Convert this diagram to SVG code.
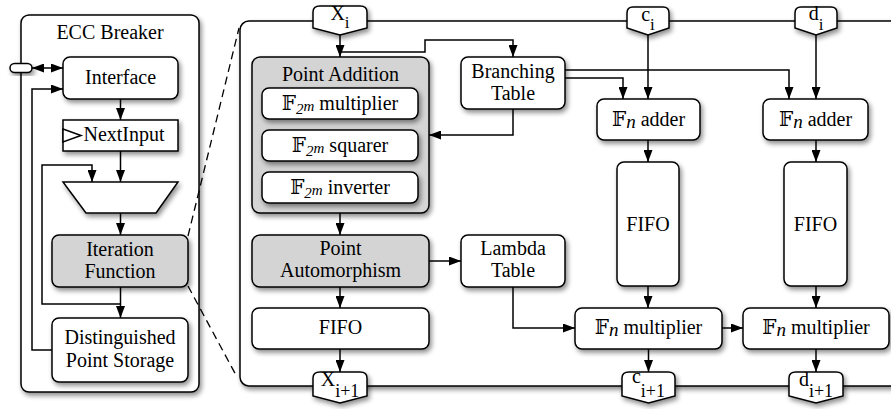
<svg xmlns="http://www.w3.org/2000/svg" width="891" height="409" viewBox="0 0 891 409" font-family="'Liberation Serif', 'Times New Roman', 'DejaVu Serif', serif">
<style>
  .box{fill:#fff;stroke:#000;stroke-width:1.5;filter:url(#sh)}
  .gray{fill:#d4d4d4}
  .t{font-size:20px;text-anchor:middle;fill:#000}
  .i{font-style:italic}
  .ln{fill:none;stroke:#000;stroke-width:1.5}
  .arr{marker-end:url(#ah)}
  .dash{fill:none;stroke:#000;stroke-width:1.3;stroke-dasharray:8,5}
</style>
<defs>
  <filter id="sh" x="-20%" y="-20%" width="150%" height="150%">
    <feGaussianBlur in="SourceAlpha" stdDeviation="2.5"/>
    <feOffset dx="2" dy="3"/>
    <feComponentTransfer><feFuncA type="linear" slope="0.45"/></feComponentTransfer>
    <feMerge><feMergeNode/><feMergeNode in="SourceGraphic"/></feMerge>
  </filter>
  <marker id="ah" viewBox="0 0 12 9" refX="12" refY="4.5" markerWidth="12" markerHeight="9" markerUnits="userSpaceOnUse" orient="auto-start-reverse">
    <path d="M0,0 L12,4.5 L0,9 z" fill="#000"/>
  </marker>
</defs>

<!-- Left panel -->
<g id="ecc-breaker">
  <rect class="box" x="21" y="15" width="178" height="377" rx="8"/>
  <text class="t" x="110" y="39">ECC Breaker</text>
</g>
<g id="io-port">
  <rect class="box" x="10" y="63.5" width="22" height="9" rx="4.5"/>
</g>
<g id="interface">
  <rect class="box" x="63" y="57" width="115" height="42" rx="7"/>
  <text class="t" x="120.5" y="84">Interface</text>
</g>
<g id="next-input">
  <rect class="box" x="63" y="120" width="115" height="31"/>
  <polygon points="63,129 81,135.5 63,142" fill="#fff" stroke="#000" stroke-width="1.5"/>
  <text class="t" x="124" y="141">NextInput</text>
</g>
<g id="mux">
  <polygon class="box" points="63,182 178,182 156,213 86,213"/>
</g>
<g id="iteration-function">
  <rect class="box gray" x="52" y="235" width="136" height="52" rx="7"/>
  <text class="t" x="120" y="256">Iteration</text>
  <text class="t" x="120" y="278">Function</text>
</g>
<g id="distinguished-point-storage">
  <rect class="box" x="52" y="318" width="136" height="64" rx="7"/>
  <text class="t" x="120" y="344">Distinguished</text>
  <text class="t" x="120" y="367">Point Storage</text>
</g>

<!-- Right detail panel -->
<g id="detail-panel">
  <rect class="box" x="240" y="21" width="700" height="365" rx="9"/>
</g>
<g id="point-addition">
  <rect class="box gray" x="252" y="57" width="177" height="156" rx="8"/>
  <text class="t" x="340.5" y="81">Point Addition</text>
  <rect class="box" x="262" y="88" width="156" height="31" rx="7"/>
  <text class="t" x="340" y="110">𝔽<tspan class="i" font-size="15" dy="4">2</tspan><tspan class="i" font-size="15" dy="-3">m</tspan><tspan dy="-1"> multiplier</tspan></text>
  <rect class="box" x="262" y="130" width="156" height="31" rx="7"/>
  <text class="t" x="340" y="152">𝔽<tspan class="i" font-size="15" dy="4">2</tspan><tspan class="i" font-size="15" dy="-3">m</tspan><tspan dy="-1"> squarer</tspan></text>
  <rect class="box" x="262" y="172" width="156" height="31" rx="7"/>
  <text class="t" x="340" y="194">𝔽<tspan class="i" font-size="15" dy="4">2</tspan><tspan class="i" font-size="15" dy="-3">m</tspan><tspan dy="-1"> inverter</tspan></text>
</g>
<g id="branching-table">
  <rect class="box" x="461" y="57" width="104" height="52" rx="7"/>
  <text class="t" x="513" y="78">Branching</text>
  <text class="t" x="513" y="100">Table</text>
</g>
<g id="point-automorphism">
  <rect class="box gray" x="252" y="235" width="177" height="52" rx="8"/>
  <text class="t" x="340.5" y="255">Point</text>
  <text class="t" x="340.5" y="277">Automorphism</text>
</g>
<g id="lambda-table">
  <rect class="box" x="461" y="235" width="104" height="52" rx="7"/>
  <text class="t" x="513" y="255">Lambda</text>
  <text class="t" x="513" y="277">Table</text>
</g>
<g id="fifo-x">
  <rect class="box" x="252" y="308" width="177" height="41" rx="7"/>
  <text class="t" x="340.5" y="334">FIFO</text>
</g>
<g id="adder-c">
  <rect class="box" x="597" y="99" width="103" height="41" rx="7"/>
  <text class="t" x="648.5" y="126">𝔽<tspan class="i" font-size="19" dy="2">n</tspan><tspan dy="-2"> adder</tspan></text>
</g>
<g id="adder-d">
  <rect class="box" x="763" y="99" width="105" height="41" rx="7"/>
  <text class="t" x="815.5" y="126">𝔽<tspan class="i" font-size="19" dy="2">n</tspan><tspan dy="-2"> adder</tspan></text>
</g>
<g id="fifo-c">
  <rect class="box" x="617" y="162" width="62" height="124" rx="7"/>
  <text class="t" x="648" y="231">FIFO</text>
</g>
<g id="fifo-d">
  <rect class="box" x="784" y="162" width="63" height="124" rx="7"/>
  <text class="t" x="815.5" y="231">FIFO</text>
</g>
<g id="multiplier-c">
  <rect class="box" x="575" y="308" width="147" height="41" rx="7"/>
  <text class="t" x="648.5" y="334">𝔽<tspan class="i" font-size="19" dy="2">n</tspan><tspan dy="-2"> multiplier</tspan></text>
</g>
<g id="multiplier-d">
  <rect class="box" x="743" y="308" width="146" height="41" rx="7"/>
  <text class="t" x="816" y="334">𝔽<tspan class="i" font-size="19" dy="2">n</tspan><tspan dy="-2"> multiplier</tspan></text>
</g>

<!-- Ports -->
<g id="port-xi">
  <path class="box" d="M313,28 L313,12 Q313,6 320,6 L360,6 Q367,6 367,12 L367,28 L340,35 Z"/>
  <text class="t" x="340" y="20">X<tspan font-size="17" dy="8">i</tspan></text>
</g>
<g id="port-ci">
  <path class="box" d="M627,28 L627,13 Q627,7 633,7 L663,7 Q669,7 669,13 L669,28 L648,35 Z"/>
  <text class="t" x="648" y="21">c<tspan font-size="17" dy="9">i</tspan></text>
</g>
<g id="port-di">
  <path class="box" d="M795,28 L795,13 Q795,7 801,7 L831,7 Q837,7 837,13 L837,28 L816,35 Z"/>
  <text class="t" x="816" y="20">d<tspan font-size="17" dy="10">i</tspan></text>
</g>
<g id="port-xi1">
  <path class="box" d="M313,396 L313,378 Q313,372 320,372 L360,372 Q367,372 367,378 L367,396 L340,403 Z"/>
  <text class="t" x="340" y="386">X<tspan font-size="18" dy="11">i+1</tspan></text>
</g>
<g id="port-ci1">
  <path class="box" d="M622,396 L622,378 Q622,372 629,372 L668,372 Q675,372 675,378 L675,396 L648.5,403 Z"/>
  <text class="t" x="648.5" y="383">c<tspan font-size="18" dy="14">i+1</tspan></text>
</g>
<g id="port-di1">
  <path class="box" d="M789,396 L789,378 Q789,372 796,372 L836,372 Q843,372 843,378 L843,396 L816,403 Z"/>
  <text class="t" x="816" y="386">d<tspan font-size="18" dy="11">i+1</tspan></text>
</g>

<!-- Connectors -->
<g id="connectors">
  <path class="ln arr" d="M32,68 L63,68" marker-start="url(#ah)"/>
  <path class="ln arr" d="M120.5,99 V120"/>
  <path class="ln arr" d="M120.5,151 V182"/>
  <path class="ln arr" d="M120.5,213 V235"/>
  <path class="ln arr" d="M120.5,287 V318"/>
  <path class="ln arr" d="M120.5,304 H42 V165 H92 V182"/>
  <path class="ln arr" d="M52,350 H32 V89 H63"/>
  <path class="dash" d="M188,236 L239,28"/>
  <path class="dash" d="M188,286 L237,377"/>

  <path class="ln arr" d="M340,35 V57"/>
  <path class="ln arr" d="M340,52 H425 V40 H513 V57"/>
  <path class="ln arr" d="M513,109 V135 H429"/>
  <path class="ln arr" d="M340,213 V235"/>
  <path class="ln arr" d="M340,287 V308"/>
  <path class="ln arr" d="M340,349 V372"/>
  <path class="ln arr" d="M429,261 H461"/>
  <path class="ln arr" d="M513,287 V328 H575"/>
  <path class="ln arr" d="M565,78 H623 V99"/>
  <path class="ln arr" d="M565,70 H789 V99"/>
  <path class="ln arr" d="M648,35 V99"/>
  <path class="ln arr" d="M648,140 V162"/>
  <path class="ln arr" d="M648,286 V308"/>
  <path class="ln arr" d="M648.5,349 V372"/>
  <path class="ln arr" d="M816,35 V99"/>
  <path class="ln arr" d="M816,140 V162"/>
  <path class="ln arr" d="M816,286 V308"/>
  <path class="ln arr" d="M816,349 V372"/>
  <path class="ln arr" d="M722,328 H743"/>
</g>
</svg>
